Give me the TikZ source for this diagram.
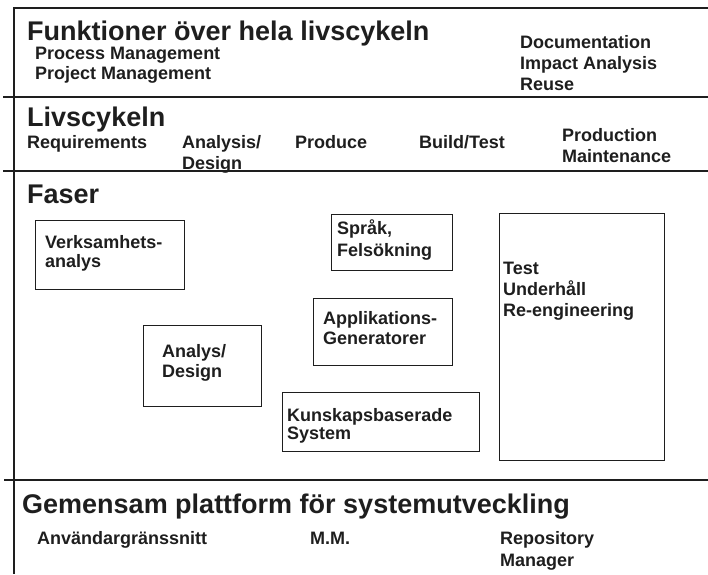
\documentclass[tikz,border=0pt]{standalone}
\usepackage{fontspec}
\setmainfont{Liberation Sans}
\definecolor{ink}{HTML}{1E1E1E}
\begin{document}
\begin{tikzpicture}[x=1pt,y=-1pt,
  every node/.style={inner sep=0pt, text=ink},
  big/.style={font=\fontsize{27}{32}\selectfont\bfseries, anchor=base west},
  lbl/.style={font=\fontsize{18}{21}\selectfont\bfseries, anchor=base west},
  rule/.style={line width=1.8pt, draw=ink},
  phasebox/.style={draw=ink, line width=1.4pt, anchor=north west}
]
\useasboundingbox (0,0) rectangle (708,574);

% frame and section rules
\coordinate (tl) at (14,8);
\coordinate (tr) at (708,8);
\coordinate (bl) at (14,574);
\coordinate (r1a) at (3,97);   \coordinate (r1b) at (708,97);
\coordinate (r2a) at (3,171);  \coordinate (r2b) at (708,171);
\coordinate (r3a) at (4,480);  \coordinate (r3b) at (708,480);
\draw[rule] (tr) -- (tl) -- (bl);
\draw[rule] (r1a) -- (r1b);
\draw[rule] (r2a) -- (r2b);
\draw[rule] (r3a) -- (r3b);

% section 1: functions across the whole life cycle
\node[big] (funk) at (27,40) {Funktioner över hela livscykeln};
\node[lbl] (proc) at (35,59) {Process Management};
\node[lbl] (proj) at (35,79) {Project Management};
\node[lbl] (doc)  at (520,48) {Documentation};
\node[lbl] (imp)  at (520,69) {Impact Analysis};
\node[lbl] (reu)  at (520,90) {Reuse};

% section 2: life cycle
\node[big] (livs) at (27,126) {Livscykeln};
\node[lbl] (req)  at (27,148) {Requirements};
\node[lbl] (ana1) at (182,148) {Analysis/};
\node[lbl] (ana2) at (182,169) {Design};
\node[lbl] (prd)  at (295,148) {Produce};
\node[lbl] (bld)  at (419,148) {Build/Test};
\node[lbl] (pro1) at (562,141) {Production};
\node[lbl] (pro2) at (562,162) {Maintenance};

% section 3: phases
\node[big] (fas) at (27,203) {Faser};
\node[phasebox, minimum width=149pt, minimum height=69pt]  (verk)  at (35,220) {};
\node[phasebox, minimum width=118pt, minimum height=81pt]  (anal)  at (143,325) {};
\node[phasebox, minimum width=121pt, minimum height=56pt]  (sprak) at (331,214) {};
\node[phasebox, minimum width=139pt, minimum height=67pt]  (appl)  at (313,298) {};
\node[phasebox, minimum width=197pt, minimum height=59pt]  (kuns)  at (282,392) {};
\node[phasebox, minimum width=165pt, minimum height=247pt] (test)  at (499,213) {};

\node[lbl] (verk1) at (45,248) {Verksamhets-};
\node[lbl] (verk2) at (45,267) {analys};
\node[lbl] (anal1) at (162,357) {Analys/};
\node[lbl] (anal2) at (162,377) {Design};
\node[lbl] (spr1)  at (337,234) {Språk,};
\node[lbl] (spr2)  at (337,256) {Felsökning};
\node[lbl] (app1)  at (323,324) {Applikations-};
\node[lbl] (app2)  at (323,344) {Generatorer};
\node[lbl] (kun1)  at (287,421) {Kunskapsbaserade};
\node[lbl] (kun2)  at (287,439) {System};
\node[lbl] (tst1)  at (503,274) {Test};
\node[lbl] (tst2)  at (503,295) {Underhåll};
\node[lbl] (tst3)  at (503,316) {Re-engineering};

% section 4: common development platform
\node[big] (gem)  at (22,513) {Gemensam plattform för systemutveckling};
\node[lbl] (anv)  at (37,544) {Användargränssnitt};
\node[lbl] (mm)   at (310,544) {M.M.};
\node[lbl] (rep1) at (500,544) {Repository};
\node[lbl] (rep2) at (500,566) {Manager};
\end{tikzpicture}
\end{document}
